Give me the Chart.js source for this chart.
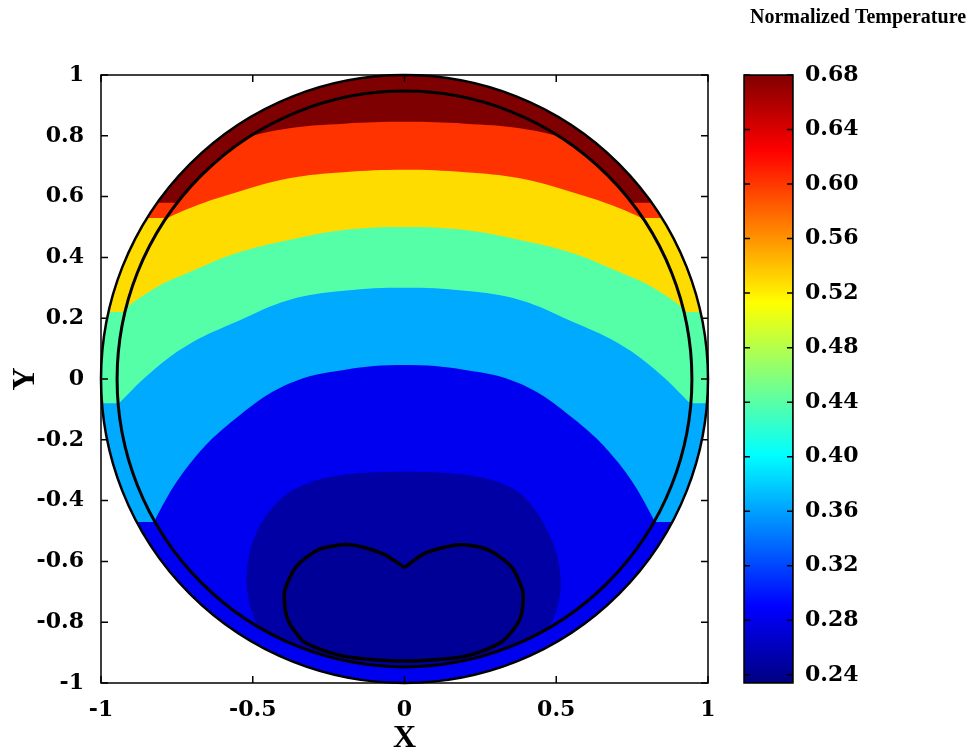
<!DOCTYPE html>
<html>
<head>
<meta charset="utf-8">
<script src="https://cdn.jsdelivr.net/npm/chart.js@4.4.1/dist/chart.umd.min.js"></script>
<style>
    html, body { margin: 0; padding: 0; background: #fff; }
    #wrap { position: relative; width: 972px; height: 752px; }
    #field { position: absolute; left: 0; top: 0; }
    #bar { position: absolute; left: 730px; top: 0; }
</style>
</head>
<body>
<div id="wrap">
    <canvas id="field" width="730" height="752"></canvas>
    <canvas id="bar" width="242" height="752"></canvas>
</div>
<script>
// Isotherms inside the fluid (lower edge of each band)
const contourX     = [-1.1, -0.95, -0.82, -0.7, -0.55, -0.38, -0.2, 0, 0.2, 0.38, 0.55, 0.7, 0.82, 0.95, 1.1];
const isoLightBlue = [-1.1, -0.75, -0.46, -0.27, -0.125, -0.015, 0.03, 0.046, 0.03, -0.015, -0.125, -0.27, -0.46, -0.75, -1.1];
const isoGreen     = [-0.25, -0.09, 0.035, 0.12, 0.19, 0.26, 0.29, 0.30, 0.29, 0.26, 0.19, 0.12, 0.035, -0.09, -0.25];
const isoYellow    = [0.10, 0.21, 0.30, 0.355, 0.415, 0.457, 0.49, 0.50, 0.49, 0.457, 0.415, 0.355, 0.30, 0.21, 0.10];
const isoOrange    = [0.36, 0.44, 0.51, 0.565, 0.615, 0.66, 0.68, 0.688, 0.68, 0.66, 0.615, 0.565, 0.51, 0.44, 0.36];
const isoDarkRed   = [0.65, 0.69, 0.73, 0.76, 0.79, 0.825, 0.84, 0.846, 0.84, 0.825, 0.79, 0.76, 0.73, 0.69, 0.65];

// cold pool at the bottom (closed)
const poolX = [-0.28, -0.42, -0.49, -0.52, -0.51, -0.47, -0.39, -0.28, -0.15, 0, 0.15, 0.28, 0.38, 0.45, 0.5, 0.515, 0.49, 0.42, 0.28, 0, -0.28];
const poolY = [-0.96, -0.88, -0.8, -0.68, -0.57, -0.47, -0.38, -0.33, -0.31, -0.305, -0.31, -0.33, -0.375, -0.46, -0.57, -0.68, -0.79, -0.88, -0.96, -1.02, -0.96];

// heart shaped coldest contour
const coreX = [0, -0.07, -0.18, -0.28, -0.355, -0.395, -0.385, -0.33, -0.2, 0, 0.2, 0.32, 0.38, 0.39, 0.35, 0.27, 0.18, 0.07, 0];
const coreY = [-0.62, -0.575, -0.545, -0.56, -0.615, -0.7, -0.79, -0.865, -0.912, -0.928, -0.912, -0.865, -0.79, -0.7, -0.615, -0.56, -0.545, -0.572, -0.62];

// wall ring: band lower edges (y), coldest first
const ringLevels = [-1.1, -0.47, -0.08, 0.22, 0.53, 0.58];

// colour bar
const cbMin = 0.234;
const cbMax = 0.68;
const cbTicks = [0.24, 0.28, 0.32, 0.36, 0.40, 0.44, 0.48, 0.52, 0.56, 0.60, 0.64, 0.68];
const jetStops = [[0, '#000080'], [0.125, '#0000ff'], [0.375, '#00ffff'], [0.625, '#ffff00'], [0.875, '#ff0000'], [1, '#800000']];

const wallRadii = [1, 0.947];

const colors = {
    blue: '#0000f0',
    lightBlue: '#00aaff',
    green: '#55ffa8',
    yellow: '#ffdc00',
    orange: '#ff3300',
    darkRed: '#7f0000',
    pool: '#0000a5',
    core: '#000096'
};
const ringColors = [colors.blue, colors.lightBlue, colors.green, colors.yellow, colors.orange, colors.darkRed];

const tickFont = { family: 'DejaVu Serif', weight: 'bold', size: 22 };
const titleFont = { family: 'Liberation Serif', weight: 'bold', size: 32, lineHeight: 1 };

function toPoints(xs, ys) {
    return xs.map((x, i) => ({ x: x, y: ys[i] }));
}

function plainTick(v) {
    return String(+v.toFixed(2));
}

function band(points, color, wall) {
    return {
        data: points,
        showLine: true,
        fill: 'end',
        backgroundColor: color,
        borderWidth: 0,
        pointRadius: 0,
        tension: 0.4,
        wall: wall
    };
}

// ring bands (clipped to the outer wall)
const ringSets = ringLevels.map((lv, i) =>
    band([{ x: -1.1, y: lv }, { x: 1.1, y: lv }], ringColors[i], 'outer'));
ringSets[ringSets.length - 1].lastRing = true;

// fluid bands (clipped to the inner wall)
const innerSets = [
    band([{ x: -1.1, y: -1.1 }, { x: 1.1, y: -1.1 }], colors.blue, 'inner'),
    band(toPoints(contourX, isoLightBlue), colors.lightBlue, 'inner'),
    band(toPoints(contourX, isoGreen), colors.green, 'inner'),
    band(toPoints(contourX, isoYellow), colors.yellow, 'inner'),
    band(toPoints(contourX, isoOrange), colors.orange, 'inner'),
    band(toPoints(contourX, isoDarkRed), colors.darkRed, 'inner'),
    Object.assign(band(toPoints(poolX, poolY), colors.pool, 'inner'), { fill: 'shape', tension: 0.3 }),
    Object.assign(band(toPoints(coreX, coreY), colors.core, 'inner'),
        { fill: 'shape', tension: 0.25, borderColor: '#000', borderWidth: 3.5 })
];

const drawList = ringSets.concat(innerSets);
// chart.js draws the highest order first
drawList.forEach((d, i) => { d.order = drawList.length - i; });

function ellipsePath(chart, r) {
    const { x, y } = chart.scales;
    const cx = x.getPixelForValue(0), cy = y.getPixelForValue(0);
    const rx = x.getPixelForValue(r) - cx, ry = cy - y.getPixelForValue(r);
    chart.ctx.beginPath();
    chart.ctx.ellipse(cx, cy, rx, ry, 0, 0, Math.PI * 2);
}

function boxAndTicks(chart, len) {
    const ctx = chart.ctx, a = chart.chartArea;
    ctx.save();
    ctx.strokeStyle = '#000';
    ctx.lineWidth = 1.5;
    Object.values(chart.scales).forEach(s => {
        if (!s.options.display) return;
        s.ticks.forEach((t, i) => {
            const p = s.getPixelForTick(i);
            ctx.beginPath();
            if (s.isHorizontal()) {
                ctx.moveTo(p, a.bottom); ctx.lineTo(p, a.bottom - len);
                ctx.moveTo(p, a.top); ctx.lineTo(p, a.top + len);
            } else {
                ctx.moveTo(a.left, p); ctx.lineTo(a.left + len, p);
                ctx.moveTo(a.right, p); ctx.lineTo(a.right - len, p);
            }
            ctx.stroke();
        });
    });
    ctx.strokeRect(a.left, a.top, a.right - a.left, a.bottom - a.top);
    ctx.restore();
}

// clip ring bands to the outer wall, fluid bands to the inner wall, then draw walls
const wallPlugin = {
    id: 'walls',
    beforeDatasetsDraw(chart) {
        chart.ctx.save();
        ellipsePath(chart, wallRadii[0]);
        chart.ctx.clip();
    },
    afterDatasetDraw(chart, args) {
        if (chart.data.datasets[args.index].lastRing) {
            chart.ctx.restore();
            chart.ctx.save();
            ellipsePath(chart, wallRadii[1]);
            chart.ctx.clip();
        }
    },
    afterDatasetsDraw(chart) {
        const ctx = chart.ctx;
        ctx.restore();
        ctx.save();
        ctx.strokeStyle = '#000';
        ctx.lineWidth = 2.5;
        ellipsePath(chart, wallRadii[0]);
        ctx.stroke();
        ctx.lineWidth = 3;
        ellipsePath(chart, wallRadii[1]);
        ctx.stroke();
        ctx.restore();
        boxAndTicks(chart, 7);
    }
};

new Chart(document.getElementById('field'), {
    type: 'scatter',
    data: { datasets: drawList },
    options: {
        responsive: false,
        animation: false,
        events: [],
        layout: { padding: { left: 0, top: 75, right: 22, bottom: 0 } },
        elements: { line: { capBezierPoints: false }, point: { radius: 0 } },
        plugins: { legend: { display: false }, tooltip: { enabled: false } },
        scales: {
            x: {
                type: 'linear', min: -1, max: 1,
                ticks: { stepSize: 0.5, font: tickFont, color: '#000', padding: 6, maxRotation: 0, callback: plainTick },
                grid: { display: false },
                border: { display: false },
                title: { display: true, text: 'X', font: titleFont, color: '#000', padding: { top: 0, bottom: -3 } },
                afterFit(s) { s.height = 69; }
            },
            y: {
                type: 'linear', min: -1, max: 1,
                ticks: { stepSize: 0.2, font: tickFont, color: '#000', padding: 9, callback: plainTick },
                grid: { display: false },
                border: { display: false },
                title: { display: true, text: 'Y', font: titleFont, color: '#000', padding: { top: 10, bottom: 0 } },
                afterFit(s) { s.width = 101; }
            }
        }
    },
    plugins: [wallPlugin]
});

// colour bar
function jetFill(c) {
    const chart = c.chart;
    if (!chart.chartArea) return null;
    const ys = chart.scales.y;
    const g = chart.ctx.createLinearGradient(0, ys.getPixelForValue(cbMin), 0, ys.getPixelForValue(cbMax));
    jetStops.forEach(s => g.addColorStop(s[0], s[1]));
    return g;
}

new Chart(document.getElementById('bar'), {
    type: 'bar',
    data: {
        labels: [''],
        datasets: [{
            data: [[cbMin, cbMax]],
            backgroundColor: jetFill,
            borderColor: '#000',
            borderWidth: 1,
            borderSkipped: false,
            barPercentage: 1,
            categoryPercentage: 1
        }]
    },
    options: {
        responsive: false,
        animation: false,
        events: [],
        layout: { padding: { left: 14, right: 0, top: 0, bottom: 69 } },
        plugins: {
            legend: { display: false },
            tooltip: { enabled: false },
            title: {
                display: true,
                text: 'Normalized Temperature',
                color: '#000',
                font: { family: 'Liberation Serif', weight: 'bold', size: 20, lineHeight: 1 },
                padding: { top: 8, bottom: 47 }
            }
        },
        scales: {
            x: { display: false },
            y: {
                position: 'right', min: cbMin, max: cbMax,
                afterBuildTicks(s) { s.ticks = cbTicks.map(v => ({ value: v })); },
                ticks: { font: tickFont, color: '#000', padding: 4, callback: v => v.toFixed(2) },
                grid: { display: false },
                border: { display: false },
                afterFit(s) { s.width = 179; }
            }
        }
    },
    plugins: [{ id: 'cbTicks', afterDatasetsDraw(chart) { boxAndTicks(chart, 6); } }]
});
</script>
</body>
</html>
